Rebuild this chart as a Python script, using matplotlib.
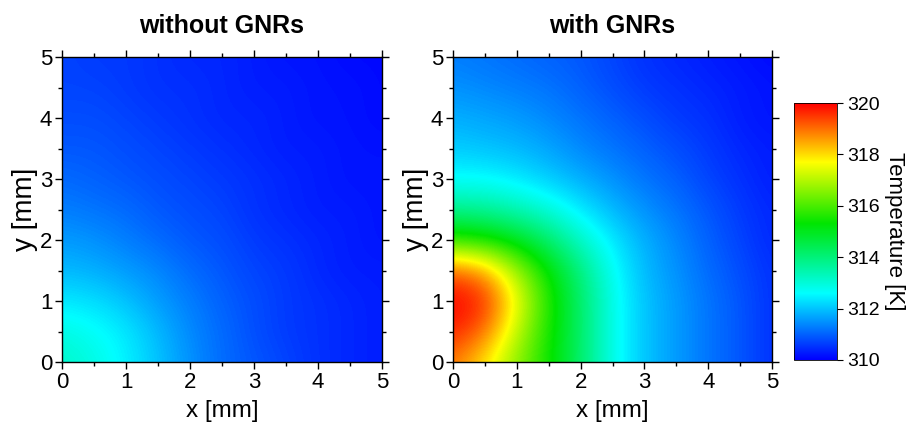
import numpy as np
import matplotlib
matplotlib.use('Agg')
import matplotlib.pyplot as plt
from matplotlib.colors import LinearSegmentedColormap
from matplotlib.ticker import MultipleLocator

plt.rcParams['font.family'] = ['Liberation Sans', 'DejaVu Sans']

# 网格坐标 (mm)，间距 0.5
x_mm = [0, 0.5, 1, 1.5, 2, 2.5, 3, 3.5, 4, 4.5, 5]
y_mm = [0, 0.5, 1, 1.5, 2, 2.5, 3, 3.5, 4, 4.5, 5]

# 温度 (K)，每行对应一个 y 值（从 y=0 开始）
temp_without = [
    [313.2, 312.9, 312.5, 312.0, 311.5, 311.1, 310.9, 310.7, 310.5, 310.4, 310.3],
    [312.9, 312.7, 312.4, 311.9, 311.4, 311.1, 310.8, 310.6, 310.5, 310.4, 310.3],
    [312.4, 312.3, 312.0, 311.6, 311.3, 311.0, 310.8, 310.6, 310.5, 310.4, 310.3],
    [311.9, 311.8, 311.6, 311.4, 311.1, 310.9, 310.7, 310.6, 310.4, 310.3, 310.3],
    [311.6, 311.5, 311.3, 311.1, 310.9, 310.8, 310.6, 310.5, 310.4, 310.3, 310.2],
    [311.3, 311.2, 311.1, 310.9, 310.8, 310.7, 310.5, 310.4, 310.3, 310.3, 310.2],
    [311.1, 311.0, 310.9, 310.8, 310.7, 310.6, 310.5, 310.4, 310.3, 310.2, 310.2],
    [310.9, 310.9, 310.8, 310.7, 310.6, 310.5, 310.4, 310.3, 310.3, 310.2, 310.2],
    [310.8, 310.8, 310.7, 310.6, 310.5, 310.4, 310.4, 310.3, 310.2, 310.2, 310.1],
    [310.7, 310.7, 310.6, 310.5, 310.5, 310.4, 310.3, 310.3, 310.2, 310.2, 310.1],
    [310.7, 310.6, 310.6, 310.5, 310.4, 310.4, 310.3, 310.2, 310.2, 310.1, 310.1],
]

temp_with = [
    [318.9, 317.9, 316.6, 315.4, 314.2, 312.8, 312.0, 311.6, 311.2, 310.9, 310.5],
    [319.7, 319.0, 317.1, 315.5, 314.2, 312.8, 312.0, 311.6, 311.2, 310.9, 310.5],
    [320.0, 319.7, 317.6, 315.6, 314.2, 312.8, 312.0, 311.6, 311.2, 310.9, 310.5],
    [319.2, 318.6, 316.8, 315.3, 314.0, 312.7, 311.9, 311.5, 311.1, 310.8, 310.5],
    [315.7, 315.5, 315.0, 314.2, 313.2, 312.4, 311.8, 311.4, 311.0, 310.7, 310.4],
    [313.8, 313.7, 313.4, 313.0, 312.4, 311.9, 311.5, 311.2, 310.9, 310.6, 310.4],
    [312.6, 312.6, 312.4, 312.1, 311.8, 311.5, 311.2, 311.0, 310.7, 310.5, 310.3],
    [312.1, 312.0, 311.9, 311.7, 311.4, 311.2, 311.0, 310.8, 310.6, 310.4, 310.3],
    [311.8, 311.7, 311.6, 311.4, 311.2, 311.0, 310.8, 310.6, 310.5, 310.3, 310.2],
    [311.5, 311.4, 311.3, 311.2, 311.0, 310.8, 310.6, 310.5, 310.4, 310.3, 310.2],
    [311.3, 311.2, 311.1, 311.0, 310.9, 310.7, 310.5, 310.4, 310.3, 310.2, 310.1],
]

titles = ['without GNRs', 'with GNRs']
cbar_ticks = [310, 312, 314, 316, 318, 320]

# 类似 Origin 的 Rainbow 色表
rainbow = LinearSegmentedColormap.from_list('origin_rainbow', [
    (0.00, (0.0, 0.0, 1.0)),
    (0.26, (0.0, 1.0, 1.0)),
    (0.53, (0.0, 0.9, 0.0)),
    (0.77, (1.0, 1.0, 0.0)),
    (1.00, (1.0, 0.0, 0.0)),
])

fig = plt.figure(figsize=(9.08, 4.26), dpi=100)

# 像素位置换算成 figure 坐标
W, H = 908, 426
ax_rects = [
    (62 / W, (H - 362) / H, 320 / W, 305 / H),
    (453 / W, (H - 362) / H, 319 / W, 305 / H),
]
dx = (x_mm[1] - x_mm[0]) / 2
dy = (y_mm[1] - y_mm[0]) / 2
extent = [x_mm[0] - dx, x_mm[-1] + dx, y_mm[0] - dy, y_mm[-1] + dy]

for rect, data, title in zip(ax_rects, [temp_without, temp_with], titles):
    ax = fig.add_axes(rect)
    im = ax.imshow(np.array(data), origin='lower', extent=extent,
                   cmap=rainbow, vmin=310, vmax=320,
                   interpolation='bicubic', aspect='auto')
    ax.set_xlim(0, 5)
    ax.set_ylim(0, 5)
    ax.xaxis.set_major_locator(MultipleLocator(1))
    ax.yaxis.set_major_locator(MultipleLocator(1))
    ax.xaxis.set_minor_locator(MultipleLocator(0.5))
    ax.yaxis.set_minor_locator(MultipleLocator(0.5))
    ax.tick_params(which='both', direction='out', top=True, right=True,
                   labeltop=False, labelright=False, width=1.0)
    ax.tick_params(which='major', length=5, labelsize=16, pad=2)
    ax.tick_params(which='minor', length=3)
    for sp in ax.spines.values():
        sp.set_linewidth(1.0)
    ax.set_xlabel('x [mm]', fontsize=17.5, labelpad=5)
    ax.set_ylabel('y [mm]', fontsize=20, labelpad=1)
    ax.set_title(title, fontsize=18, fontweight='bold', pad=17)

cax = fig.add_axes((794 / W, (H - 360) / H, 43 / W, 257 / H))
cbar = fig.colorbar(im, cax=cax, ticks=cbar_ticks)
cbar.outline.set_linewidth(0.6)
cbar.ax.tick_params(labelsize=14, length=4, width=0.8)
cbar.set_label('Temperature [K]', rotation=270, fontsize=16, labelpad=18)

fig.savefig('out.png', dpi=100)
